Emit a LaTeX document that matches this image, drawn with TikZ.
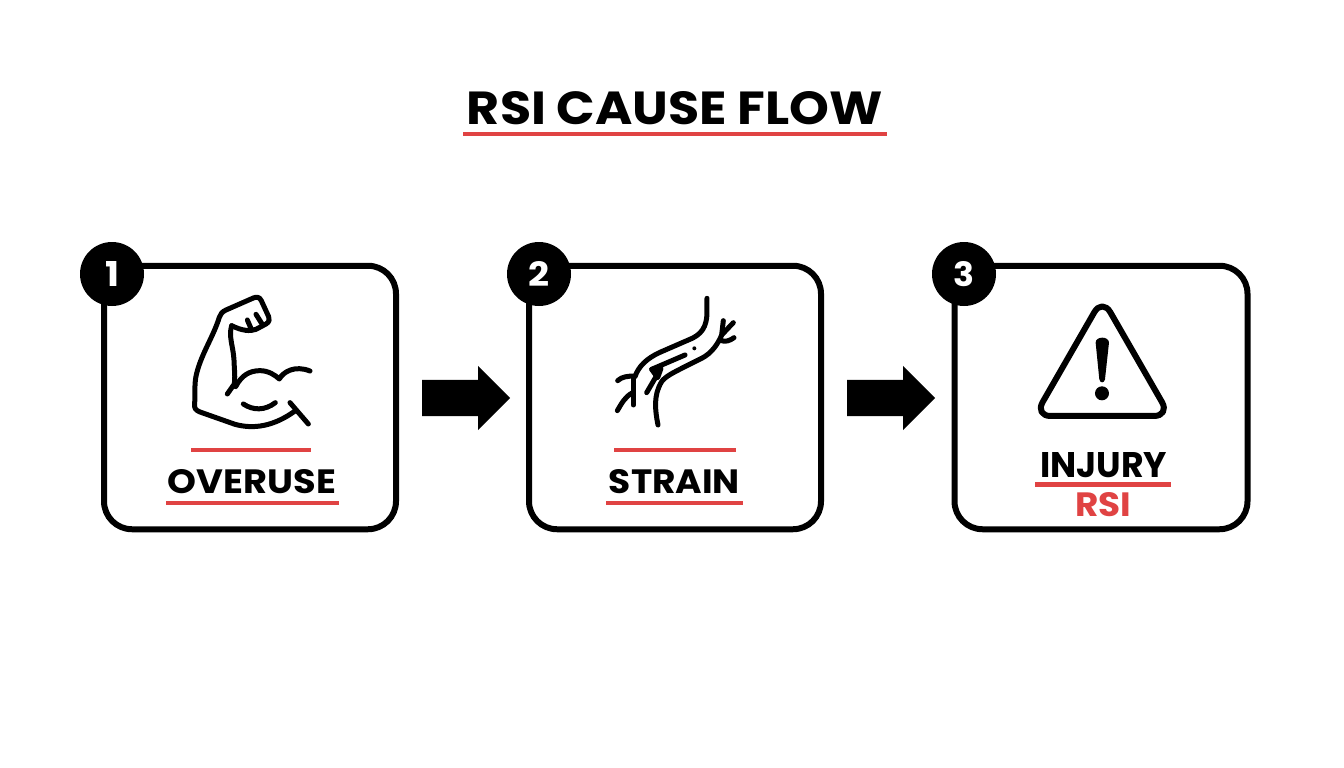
\documentclass[tikz,border=0pt]{standalone}
\usepackage{graphicx}
\usepackage{fontspec}
\setmainfont{Poppins}
\usetikzlibrary{shapes.arrows}
\definecolor{rsired}{HTML}{E04343}
\newcommand{\fit}[3]{\resizebox{#1}{#2}{\bfseries #3}}
\tikzset{
  card/.style={draw=black,line width=6pt,rounded corners=28pt,minimum width=#1,minimum height=263.5pt,inner sep=0pt,fill=white},
  badge/.style={circle,fill=black,text=white,minimum size=64pt,inner sep=0pt},
  blockarrow/.style={single arrow,fill=black,inner sep=0pt,minimum width=64pt,minimum height=88pt,single arrow head extend=14pt,single arrow tip angle=90,anchor=tail},
  rule/.style={fill=rsired,inner sep=0pt,minimum width=#1},
  label/.style={inner sep=0pt},
  icon/.style={line width=5pt,line cap=round,line join=round},
}
\begin{document}
\begin{tikzpicture}[x=1pt,y=-1pt]
\useasboundingbox[fill=white] (0,0) rectangle (1344,768);
% title
\node[label] (title) at (675,108.5) {\fit{416pt}{33pt}{RSI CAUSE FLOW}};
\node[rule=424pt,minimum height=4.5pt] (titlerule) at (675,134) {};
% cards
\node[card=292pt] (c1) at (250,397.5) {};
\node[card=292pt] (c2) at (675,397.5) {};
\node[card=293pt] (c3) at (1101,397.5) {};
\node[badge] (b1) at (112,274) {\fit{14pt}{25pt}{1}};
\node[badge] (b2) at (539,274) {\fit{21pt}{25pt}{2}};
\node[badge] (b3) at (964,274) {\fit{21pt}{25pt}{3}};
% arrows
\node[blockarrow] (a1) at (422,398) {\rule{0pt}{36pt}};
\node[blockarrow] (a2) at (847,398) {\rule{0pt}{36pt}};
% card 1 labels
\node[rule=120pt,minimum height=4.5pt] (r1a) at (251,450) {};
\node[label] (t1) at (252,482) {\fit{168pt}{24pt}{OVERUSE}};
\node[rule=173pt,minimum height=4.5pt] (r1b) at (252.5,503) {};
% card 2 labels
\node[rule=122pt,minimum height=4.5pt] (r2a) at (675,450) {};
\node[label] (t2) at (674.5,482) {\fit{131pt}{24pt}{STRAIN}};
\node[rule=137pt,minimum height=4.5pt] (r2b) at (674.5,503) {};
% card 3 labels
\node[label] (t3) at (1103.5,465.5) {\fit{127pt}{25pt}{INJURY}};
\node[rule=136pt,minimum height=4.5pt] (r3) at (1103,484.5) {};
\node[label,text=rsired] (t4) at (1103,505) {\fit{56pt}{24pt}{RSI}};
% muscle icon (coordinates in zoomed pixels)
\begin{scope}[shift={(170,280)},x=0.3333pt,y=-0.3333pt,icon]
\draw (185,137) .. controls (215,152) and (240,155) .. (258,148) -- (288,132) .. controls (298,126) and (300,118) .. (296,110) -- (274,62) .. controls (268,50) and (260,50) .. (250,54) -- (168,90) .. controls (155,96) and (152,102) .. (148,112) .. controls (130,170) and (95,220) .. (80,280) .. controls (72,310) and (76,340) .. (74,370) .. controls (72,385) and (76,390) .. (90,396) -- (195,433) .. controls (250,448) and (310,440) .. (375,393);
\draw (185,137) .. controls (175,170) and (190,200) .. (192,240) .. controls (193,270) and (196,295) .. (193,312) -- (172,342);
\draw (197,320) .. controls (215,285) and (240,272) .. (270,272) .. controls (295,272) and (315,285) .. (328,297) .. controls (340,275) and (375,255) .. (420,273);
\draw (220,372) .. controls (250,392) and (285,392) .. (316,368);
\draw (360,368) -- (415,432);
\draw (232,120) -- (245,150);
\draw (258,103) -- (275,130);
\end{scope}
% strain icon
\begin{scope}[shift={(590,280)},x=0.3333pt,y=-0.3333pt,icon]
\draw (351,55) -- (351,100) .. controls (350,140) and (335,165) .. (295,180) -- (210,217) .. controls (170,235) and (145,260) .. (135,290);
\draw (130,290) -- (130,375);
\draw (83,302) .. controls (95,290) and (115,288) .. (135,288);
\draw (82,392) .. controls (95,370) and (105,350) .. (128,338);
\draw (204,435) .. controls (195,390) and (190,345) .. (215,305) .. controls (225,290) and (250,278) .. (275,265) -- (335,235) .. controls (365,220) and (385,190) .. (395,165) -- (400,122);
\draw (395,165) -- (430,128);
\draw (390,180) .. controls (405,188) and (420,182) .. (432,173);
\draw (285,225) -- (185,268);
\draw[fill=black] (185,268) -- (213,265) -- (203,293) -- cycle;
\draw (198,290) -- (170,338);
\fill (313,205) circle (6);
\end{scope}
% warning icon
\begin{scope}[shift={(920,250)},x=0.3333pt,y=-0.3333pt]
\draw[line width=6pt,line join=round,rounded corners=16pt] (547,145) -- (750,498) -- (344,498) -- cycle;
\fill (527,278) .. controls (527,258) and (567,258) .. (567,278) -- (555,388) .. controls (553,400) and (540,400) .. (538,388) -- cycle;
\fill (546,430) circle (21);
\end{scope}
\end{tikzpicture}
\end{document}
